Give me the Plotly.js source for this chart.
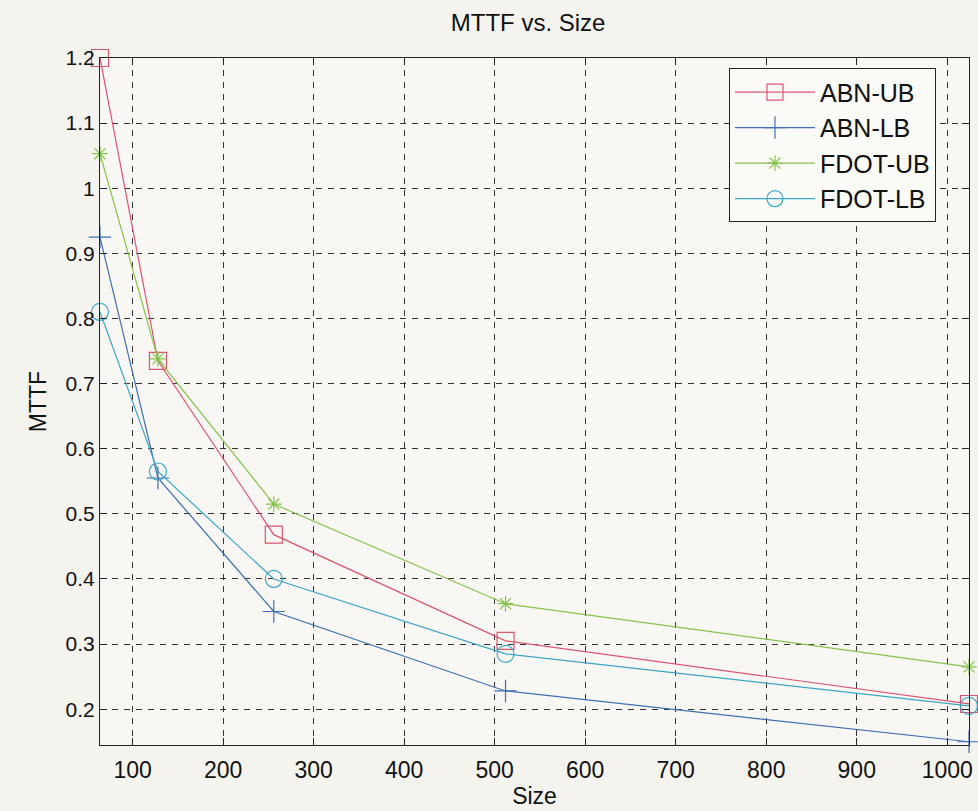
<!DOCTYPE html>
<html>
<head>
<meta charset="utf-8">
<script src="https://cdn.plot.ly/plotly-3.0.1.min.js"></script>
<style>html,body{margin:0;padding:0;background:#f4f3ee;}#chart{width:978px;height:811px;}</style>
</head>
<body>
<div id="chart"></div>
<script>
const sizes = [64, 128, 256, 512, 1024];
const abnUB = [1.2, 0.735, 0.468, 0.305, 0.208];
const abnLB = [0.925, 0.555, 0.35, 0.228, 0.15];
const fdotUB = [1.053, 0.738, 0.515, 0.362, 0.265];
const fdotLB = [0.81, 0.565, 0.40, 0.285, 0.205];
const xTicks = [100, 200, 300, 400, 500, 600, 700, 800, 900, 1000];
const yTicks = [0.2, 0.3, 0.4, 0.5, 0.6, 0.7, 0.8, 0.9, 1.0, 1.1, 1.2];
const yTickText = ['0.2','0.3','0.4','0.5','0.6','0.7','0.8','0.9','1','1.1','1.2'];

function tr(name, y, color, symbol, size) {
  return {x: sizes, y: y, name: name, type: 'scatter', mode: 'lines+markers', cliponaxis: false,
    line: {color: color, width: 1.2},
    marker: {symbol: symbol, size: size, color: color, line: {color: color, width: 1.2}}};
}
const data = [
  tr('ABN-UB', abnUB, '#d9566e', 'square-open', 17),
  tr('ABN-LB', abnLB, '#3d6fb2', 'cross-thin-open', 16),
  tr('FDOT-UB', fdotUB, '#86c24a', 'asterisk-open', 13),
  tr('FDOT-LB', fdotLB, '#3aa5c6', 'circle-open', 17)
];
const F = 'Liberation Sans, Arial';
const axisCommon = {
  showline: true, linecolor: '#222', linewidth: 1, mirror: 'ticks',
  ticks: 'inside', ticklen: 7, tickcolor: '#222',
  showgrid: true, gridcolor: '#333', griddash: '6px,6px', gridwidth: 1,
  zeroline: false
};
const layout = {
  width: 978, height: 811,
  margin: {l: 100, r: 9, t: 58, b: 66},
  paper_bgcolor: '#f4f3ee', plot_bgcolor: '#f8f7f3',
  title: {text: 'MTTF vs. Size', font: {family: F, size: 24, color: '#111'}, x: 0.54, xanchor: 'center', y: 0.972, yanchor: 'middle'},
  xaxis: Object.assign({}, axisCommon, {range: [64, 1024], tickvals: xTicks,
    tickfont: {family: F, size: 23, color: '#111'}, ticklabelstandoff: 4,
    title: {text: 'Size', font: {family: F, size: 23, color: '#111'}, standoff: 4}}),
  yaxis: Object.assign({}, axisCommon, {range: [0.145, 1.2], tickvals: yTicks, ticktext: yTickText,
    tickfont: {family: F, size: 21, color: '#111'},
    title: {text: 'MTTF', font: {family: F, size: 23, color: '#111'}, standoff: 12}}),
  legend: {x: 0.962, xanchor: 'right', y: 0.985, yanchor: 'top', bgcolor: '#fafaf7',
    bordercolor: '#222', borderwidth: 1, itemwidth: 80,
    font: {family: F, size: 25, color: '#111'}, tracegroupgap: 0},
  showlegend: true
};
Plotly.newPlot('chart', data, layout, {displayModeBar: false, staticPlot: true});
</script>
</body>
</html>
